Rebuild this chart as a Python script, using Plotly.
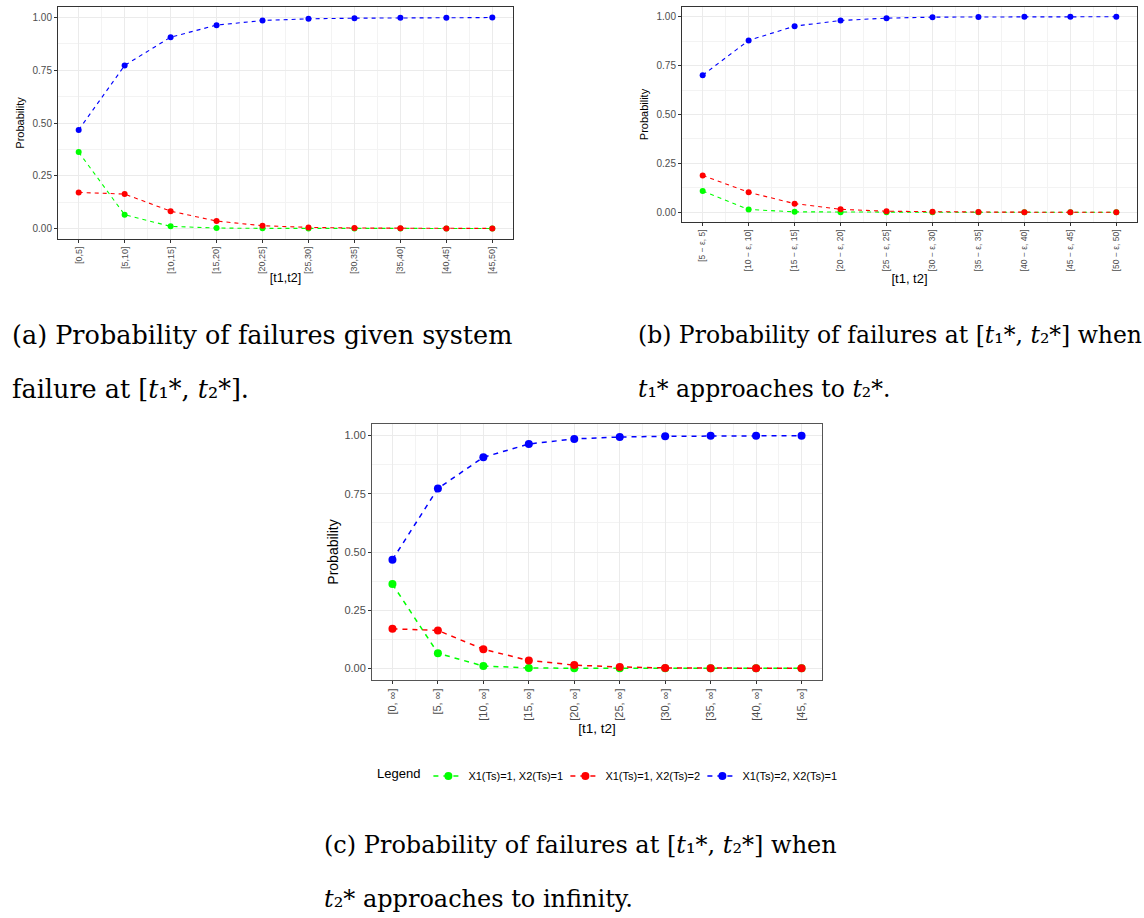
import plotly.graph_objects as go

W, H = 1144, 918

# ---------------- data ----------------
labels_a = ["[0,5]", "[5,10]", "[10,15]", "[15,20]", "[20,25]",
            "[25,30]", "[30,35]", "[35,40]", "[40,45]", "[45,50]"]
labels_b = ["[5 − ε, 5]", "[10 − ε, 10]", "[15 − ε, 15]", "[20 − ε, 20]", "[25 − ε, 25]",
            "[30 − ε, 30]", "[35 − ε, 35]", "[40 − ε, 40]", "[45 − ε, 45]", "[50 − ε, 50]"]
labels_c = ["[0, ∞]", "[5, ∞]", "[10, ∞]", "[15, ∞]", "[20, ∞]",
            "[25, ∞]", "[30, ∞]", "[35, ∞]", "[40, ∞]", "[45, ∞]"]

series_names = ["X1(Ts)=1, X2(Ts)=1", "X1(Ts)=1, X2(Ts)=2", "X1(Ts)=2, X2(Ts)=1"]
series_colors = ["#00FF00", "#FF0000", "#0000FF"]

green_a = [0.362, 0.065, 0.010, 0.002, 0.0004, 0.0001, 0.0, 0.0, 0.0, 0.0]
red_a = [0.171, 0.163, 0.082, 0.035, 0.013, 0.005, 0.002, 0.001, 0.0003, 0.0001]
blue_a = [0.467, 0.773, 0.907, 0.964, 0.986, 0.994, 0.997, 0.999, 0.999, 1.0]

green_b = [0.108, 0.014, 0.002, 0.0003, 0.0001, 0.0, 0.0, 0.0, 0.0, 0.0]
red_b = [0.188, 0.102, 0.044, 0.015, 0.005, 0.002, 0.001, 0.0003, 0.0001, 0.0]
blue_b = [0.701, 0.879, 0.952, 0.981, 0.993, 0.998, 0.999, 1.0, 1.0, 1.0]

green_c = [0.362, 0.065, 0.010, 0.002, 0.0004, 0.0001, 0.0, 0.0, 0.0, 0.0]
red_c = [0.170, 0.163, 0.082, 0.034, 0.014, 0.006, 0.002, 0.001, 0.0003, 0.0001]
blue_c = [0.467, 0.773, 0.907, 0.964, 0.986, 0.994, 0.997, 0.999, 0.999, 1.0]

y_ticks = [0.0, 0.25, 0.5, 0.75, 1.0]
y_ticktext = ["0.00", "0.25", "0.50", "0.75", "1.00"]

fig = go.Figure()

panels = [
    # (axis suffix, labels, series, marker size, line width, dash, show legend)
    ("", labels_a, [green_a, red_a, blue_a], 6, 1.1, "4px,4px", False),
    ("2", labels_b, [green_b, red_b, blue_b], 6, 1.1, "4px,4px", False),
    ("3", labels_c, [green_c, red_c, blue_c], 8, 1.5, "5px,5px", True),
]

for suf, labels, series, msize, lw, dash, showleg in panels:
    xpos = list(range(len(labels)))
    for name, color, vals in zip(series_names, series_colors, series):
        fig.add_trace(go.Scatter(
            x=xpos, y=vals, mode="lines+markers", name=name,
            line=dict(color=color, width=lw, dash=dash),
            marker=dict(color=color, size=msize),
            showlegend=showleg,
            xaxis="x" + suf, yaxis="y" + suf,
        ))

def px_dom(a, b, total):
    return [a / total, b / total]

def py_dom(top, bottom):
    return [1 - bottom / H, 1 - top / H]

grid_major = "#EBEBEB"
grid_minor = "#F3F3F3"
tick_grey = "#4D4D4D"
FONT = "Liberation Sans, Arial, sans-serif"

def xaxis(dom, anchor, labels, tfs, title, title_fs, standoff, lc):
    n = len(labels)
    return dict(
        domain=dom, anchor=anchor, range=[-0.45, n - 1 + 0.45],
        tickmode="array", tickvals=list(range(n)), ticktext=labels,
        tickangle=-90, tickfont=dict(size=tfs, color=tick_grey, family=FONT),
        ticks="outside", ticklen=3, tickcolor="#333333",
        showgrid=True, gridcolor=grid_major, gridwidth=1,
        minor=dict(tickvals=[i + 0.5 for i in range(n - 1)], showgrid=True,
                   gridcolor=grid_minor, gridwidth=1, ticks=""),
        showline=True, mirror=True, linecolor=lc, linewidth=1,
        zeroline=False,
        title=dict(text=title, font=dict(size=title_fs, color="#000000", family=FONT),
                   standoff=standoff),
    )

def yaxis(dom, anchor, tfs, title_fs, standoff, lc):
    return dict(
        domain=dom, anchor=anchor, range=[-0.05, 1.05],
        tickmode="array", tickvals=y_ticks, ticktext=y_ticktext,
        tickfont=dict(size=tfs, color=tick_grey, family=FONT),
        ticks="outside", ticklen=3, tickcolor="#333333",
        showgrid=True, gridcolor=grid_major, gridwidth=1,
        minor=dict(tickvals=[0.125, 0.375, 0.625, 0.875], showgrid=True,
                   gridcolor=grid_minor, gridwidth=1, ticks=""),
        showline=True, mirror=True, linecolor=lc, linewidth=1,
        zeroline=False,
        title=dict(text="Probability", font=dict(size=title_fs, color="#000000", family=FONT),
                   standoff=standoff),
    )

fig.update_layout(
    width=W, height=H,
    margin=dict(l=0, r=0, t=0, b=0),
    paper_bgcolor="white", plot_bgcolor="white",
    font=dict(family=FONT),
    xaxis=xaxis(px_dom(58, 513, W), "y", labels_a, 9, "[t1,t2]", 12.5, 0, "#333333"),
    yaxis=yaxis(py_dom(7, 239), "x", 10, 11, 5, "#333333"),
    xaxis2=xaxis(px_dom(682, 1137, W), "y2", labels_b, 8.5, "[t1, t2]", 13, 0, "#333333"),
    yaxis2=yaxis(py_dom(7, 222), "x2", 10, 11, 5, "#333333"),
    xaxis3=xaxis(px_dom(372, 822, W), "y3", labels_c, 11, "[t1, t2]", 13.5, 2, "#555555"),
    yaxis3=yaxis(py_dom(424, 680), "x3", 11, 14, 2, "#555555"),
    legend=dict(
        orientation="h", x=375 / W, xanchor="left", y=1 - 776 / H, yanchor="middle",
        title=dict(text="Legend", side="left", font=dict(size=13, color="#000000")),
        font=dict(size=11, color="#000000", family=FONT),
        bgcolor="rgba(0,0,0,0)", itemwidth=30, entrywidth=92, entrywidthmode="pixels",
    ),
)

SERIF = "DejaVu Serif, Liberation Serif, serif"
t1s = "<i>t</i>₁*"
t2s = "<i>t</i>₂*"
star1 = "[" + t1s + ", " + t2s + "]"
captions = [
    (10, 335, "(a) Probability of failures given system", 25.5),
    (10, 389, "failure at " + star1 + ".", 25.5),
    (636, 335, "(b) Probability of failures at " + star1 + " when", 23.5),
    (636, 389, t1s + " approaches to " + t2s + ".", 23.5),
    (322, 845, "(c) Probability of failures at " + star1 + " when", 24),
    (322, 899, t2s + " approaches to infinity.", 24),
]
for x, y, txt, fs in captions:
    fig.add_annotation(
        x=x / W, y=1 - y / H, xref="paper", yref="paper",
        xanchor="left", yanchor="middle", text=txt, showarrow=False,
        font=dict(family=SERIF, size=fs, color="#000000"),
    )

fig.write_html("out.html")
